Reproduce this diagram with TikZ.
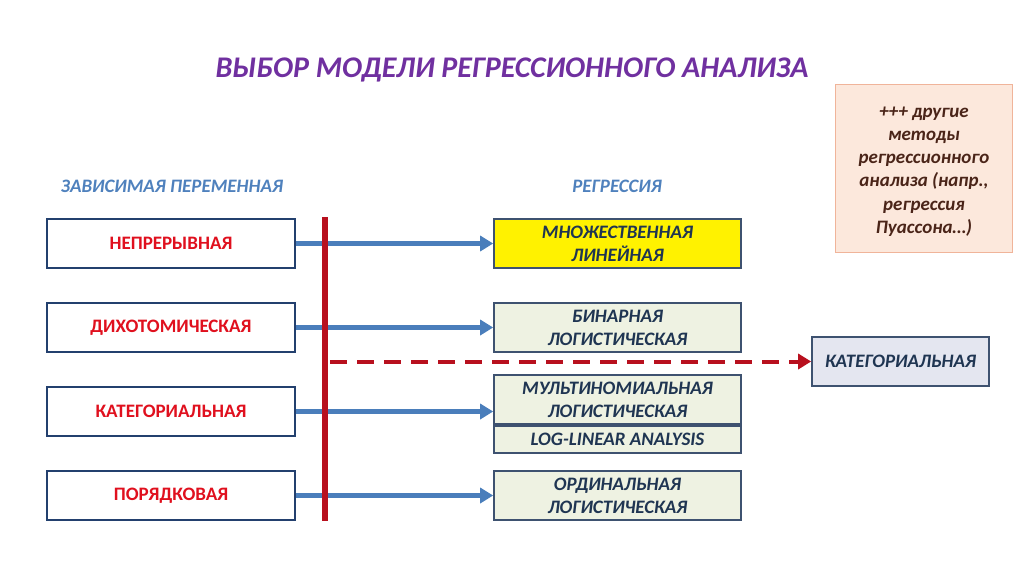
\documentclass[tikz,border=0pt]{standalone}
\usepackage{fontspec}
\setmainfont{Carlito}
\usetikzlibrary{arrows.meta}
\definecolor{titlepurple}{HTML}{7030A0}
\definecolor{headblue}{HTML}{4F81BD}
\definecolor{boxred}{HTML}{E0101E}
\definecolor{darkframe}{HTML}{23406E}
\definecolor{greyframe}{HTML}{3E5270}
\definecolor{textnavy}{HTML}{1F3552}
\definecolor{paleolive}{HTML}{EEF2E2}
\definecolor{palelav}{HTML}{E4E6F0}
\definecolor{barred}{HTML}{B8101E}
\definecolor{arrowblue}{HTML}{4A7EBB}
\definecolor{peach}{HTML}{FCE8DC}
\definecolor{salmon}{HTML}{F0B49A}
\definecolor{brown}{HTML}{4A2418}
\begin{document}
\begin{tikzpicture}[x=1pt,y=-1pt,
	varbox/.style={draw=darkframe,line width=1.6pt,fill=white,minimum width=248pt,minimum height=49pt,inner sep=0pt,
		font=\fontsize{19}{22}\selectfont\bfseries,text=boxred},
	regbox/.style={draw=greyframe,line width=1.6pt,fill=paleolive,minimum width=247pt,minimum height=49pt,inner sep=0pt,align=center,
		font=\fontsize{19}{23}\selectfont\bfseries\itshape,text=textnavy},
	header/.style={font=\fontsize{19}{22}\selectfont\bfseries\itshape,text=headblue},
	feed/.style={draw=arrowblue,line width=4.5pt,-{Triangle[length=13pt,width=15pt]}}]
	\useasboundingbox (0,0) rectangle (1024,574);
	\node[font=\fontsize{30}{34}\selectfont\bfseries\itshape,text=titlepurple] (title) at (512,70) {ВЫБОР МОДЕЛИ РЕГРЕССИОННОГО АНАЛИЗА};
	\node[header] (hvar) at (172,186) {ЗАВИСИМАЯ ПЕРЕМЕННАЯ};
	\node[header] (hreg) at (617,186) {РЕГРЕССИЯ};
	% left column
	\foreach \n/\y/\t in {1/243.5/НЕПРЕРЫВНАЯ,2/327.5/ДИХОТОМИЧЕСКАЯ,3/411.5/КАТЕГОРИАЛЬНАЯ,4/495.5/ПОРЯДКОВАЯ}
		\node[varbox] (v\n) at (171,\y) {\t};
	% right column
	\node[regbox,fill=yellow] (r1) at (617.5,243.5) {МНОЖЕСТВЕННАЯ\\ЛИНЕЙНАЯ};
	\node[regbox] (r2) at (617.5,327.5) {БИНАРНАЯ\\ЛОГИСТИЧЕСКАЯ};
	\node[regbox] (r3) at (617.5,399.5) {МУЛЬТИНОМИАЛЬНАЯ\\ЛОГИСТИЧЕСКАЯ};
	\node[regbox,minimum height=27pt] (r3b) at (617.5,439.5) {LOG-LINEAR ANALYSIS};
	\node[regbox] (r4) at (617.5,495.5) {ОРДИНАЛЬНАЯ\\ЛОГИСТИЧЕСКАЯ};
	\node[regbox,fill=palelav,minimum width=177pt] (cat) at (900.5,361.5) {КАТЕГОРИАЛЬНАЯ};
	\node[draw=salmon,line width=1pt,fill=peach,minimum width=176pt,minimum height=168pt,
		font=\fontsize{19}{23.2}\selectfont\bfseries\itshape,text=brown] (other) at (924,168) {\parbox{170pt}{\vspace{7pt}\centering +++ другие\\методы\\регрессионного\\анализа (напр.,\\регрессия\\Пуассона…)}};
	% connectors
	\foreach \n in {1,2,3,4}
		\draw[feed] (v\n.east) -- (v\n.east -| r1.west);
	\coordinate (bartop) at (325,217);
	\coordinate (barbot) at (325,521);
	\draw[barred,line width=6pt] (bartop) -- (barbot);
	\coordinate (dashstart) at (330,361.5);
	\draw[barred,line width=4pt,dash pattern=on 17pt off 10pt,-{Triangle[length=13pt,width=15pt]}] (dashstart) -- (cat.west);
\end{tikzpicture}
\end{document}
